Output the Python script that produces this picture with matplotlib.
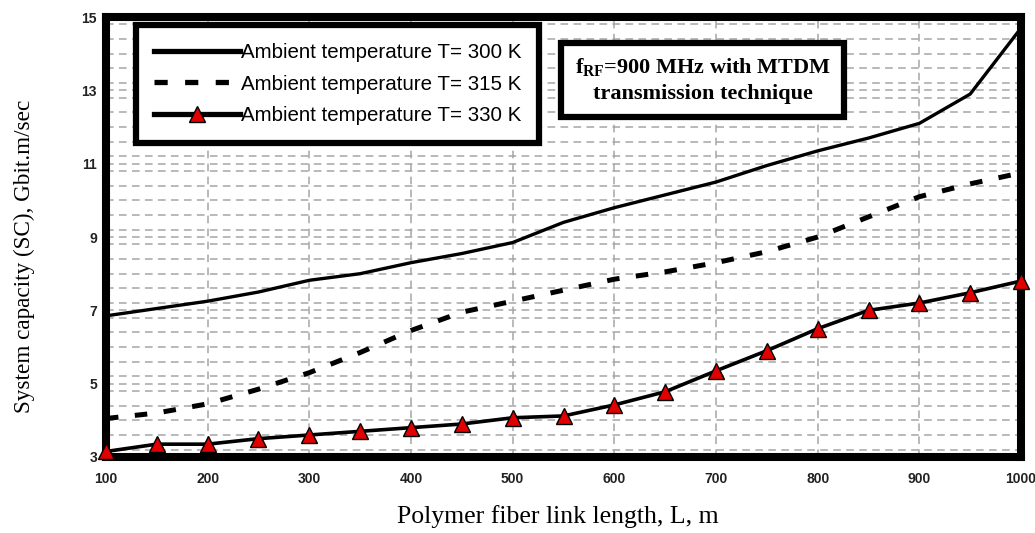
import matplotlib
matplotlib.use("Agg")
import matplotlib.pyplot as plt
from matplotlib.ticker import MultipleLocator

# fiber link length (m)
length_m = [100, 150, 200, 250, 300, 350, 400, 450, 500, 550,
            600, 650, 700, 750, 800, 850, 900, 950, 1000]

# system capacity (Gbit.m/sec) for each ambient temperature
cap_300k = [6.85, 7.05, 7.25, 7.5, 7.82, 8.0, 8.3, 8.55, 8.85, 9.4,
            9.8, 10.15, 10.5, 10.95, 11.35, 11.7, 12.1, 12.9, 14.7]
cap_315k = [4.05, 4.2, 4.45, 4.85, 5.3, 5.85, 6.45, 6.95, 7.25, 7.55,
            7.85, 8.05, 8.3, 8.6, 9.0, 9.55, 10.1, 10.45, 10.75]
cap_330k = [3.15, 3.35, 3.35, 3.5, 3.6, 3.7, 3.8, 3.9, 4.07, 4.12,
            4.42, 4.78, 5.35, 5.9, 6.5, 7.0, 7.2, 7.48, 7.8]

legend_labels = ["Ambient temperature T= 300 K",
                 "Ambient temperature T= 315 K",
                 "Ambient temperature T= 330 K"]

x_ticks = [100, 200, 300, 400, 500, 600, 700, 800, 900, 1000]
y_ticks = [3, 5, 7, 9, 11, 13, 15]

plt.rcParams["mathtext.fontset"] = "custom"
plt.rcParams["mathtext.rm"] = "Liberation Serif:bold"
plt.rcParams["mathtext.bf"] = "Liberation Serif:bold"
plt.rcParams["mathtext.it"] = "Liberation Serif:bold"

fig = plt.figure(figsize=(10.35, 5.33), dpi=100)
ax = fig.add_axes([0.1024, 0.1426, 0.8841, 0.8254])

ax.plot(length_m, cap_300k, color="black", lw=2.4, label=legend_labels[0])
ax.plot(length_m, cap_315k, color="black", lw=3.6, dashes=(2.5, 3.3),
        label=legend_labels[1])
ax.plot(length_m, cap_330k, color="black", lw=2.6, marker="^", ms=11,
        mfc="#e00000", mec="black", mew=1.0, label=legend_labels[2],
        clip_on=False, zorder=5)

ax.set_xlim(100, 1000)
ax.set_ylim(3, 15)
ax.set_xticks(x_ticks)
ax.set_yticks(y_ticks)
ax.yaxis.set_minor_locator(MultipleLocator(0.4))
ax.tick_params(which="both", length=0)
ax.tick_params(axis="x", pad=11)
ax.tick_params(axis="y", pad=6.5)
for lbl in ax.get_xticklabels() + ax.get_yticklabels():
    lbl.set_fontfamily("Liberation Sans")
    lbl.set_fontweight("bold")
    lbl.set_fontsize(10)
    lbl.set_color("#222222")

# dashed grey grid: vertical at each 100 m, horizontal every 0.4
ax.grid(True, axis="x", which="major", color="#a5a5a5", lw=1.1,
        dashes=(5, 3.5))
ax.grid(True, axis="y", which="both", color="#a5a5a5", lw=1.1,
        dashes=(5, 3.5))
ax.set_axisbelow(True)

for sp in ax.spines.values():
    sp.set_linewidth(5.8)
    sp.set_color("black")

ax.set_xlabel("Polymer fiber link length, L, m", family="Liberation Serif",
              fontsize=18.5)
ax.xaxis.set_label_coords(0.494, -0.11)
ax.set_ylabel("System capacity (SC), Gbit.m/sec", family="Liberation Serif",
              fontsize=16.7)
ax.yaxis.set_label_coords(-0.078, 0.455)

leg = ax.legend(loc="upper left", bbox_to_anchor=(0.033, 0.981),
                borderaxespad=0, fancybox=False, handlelength=4.2,
                handletextpad=0.05, labelspacing=0.62, borderpad=0.85,
                prop={"family": "Liberation Sans", "size": 14.8})
leg.get_frame().set_linewidth(4.5)
leg.get_frame().set_edgecolor("black")
leg.get_frame().set_alpha(1)
for h in leg.get_lines():
    h.set_linewidth(3.8)

ax.text(0.652, 0.857, "$\\mathbf{f}_{\\mathbf{RF}}$=900 MHz with MTDM\ntransmission technique",
        transform=ax.transAxes, ha="center", va="center",
        family="Liberation Serif", fontweight="bold", fontsize=16,
        linespacing=1.4,
        bbox=dict(boxstyle="square,pad=0.6", fc="white", ec="black", lw=4.5),
        zorder=6)

fig.savefig("out.png", dpi=100)
